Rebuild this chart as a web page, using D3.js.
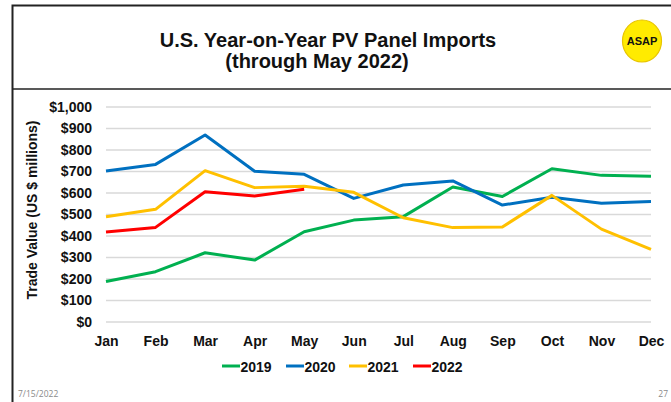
<!DOCTYPE html>
<html>
<head>
<meta charset="utf-8">
<script src="https://cdn.jsdelivr.net/npm/d3@7"></script>
<style>
  body { margin: 0; background: #fff; }
  svg { display: block; font-family: "Liberation Sans", Arial, sans-serif; }
</style>
</head>
<body>
<div id="chart"></div>
<script>
"use strict";

// chart data
const months = ["Jan", "Feb", "Mar", "Apr", "May", "Jun", "Jul", "Aug", "Sep", "Oct", "Nov", "Dec"];
const years = ["2019", "2020", "2021", "2022"];
const colors = ["#00B050", "#0070C0", "#FFC000", "#FF0000"];
const values2019 = [188, 234, 322, 288, 420, 474, 490, 628, 584, 713, 682, 678];
const values2020 = [702, 733, 870, 701, 687, 575, 637, 656, 544, 580, 552, 561];
const values2021 = [490, 524, 704, 625, 631, 603, 485, 439, 442, 589, 432, 338];
const values2022 = [419, 440, 606, 586, 617];
const yTicks = [0, 100, 200, 300, 400, 500, 600, 700, 800, 900, 1000];

const series = [values2019, values2020, values2021, values2022];

const W = 671, H = 402;

const svg = d3.select("#chart").append("svg")
    .attr("width", W)
    .attr("height", H);

// slide frame
svg.append("path")
    .attr("d", "M12.5,402 V5.5 H671")
    .attr("fill", "none")
    .attr("stroke", "#222")
    .attr("stroke-width", 2);
svg.append("line")
    .attr("x1", 12.5).attr("x2", 671)
    .attr("y1", 89).attr("y2", 89)
    .attr("stroke", "#222")
    .attr("stroke-width", 1.5);

// title
svg.append("text")
    .attr("x", 328).attr("y", 47)
    .attr("text-anchor", "middle")
    .attr("font-size", 20).attr("font-weight", "bold")
    .attr("fill", "#111")
    .text("U.S. Year-on-Year PV Panel Imports");
svg.append("text")
    .attr("x", 317).attr("y", 68)
    .attr("text-anchor", "middle")
    .attr("font-size", 20).attr("font-weight", "bold")
    .attr("fill", "#111")
    .text("(through May 2022)");

// ASAP badge
svg.append("ellipse")
    .attr("cx", 642).attr("cy", 41)
    .attr("rx", 19.5).attr("ry", 21)
    .attr("fill", "#FFEB00")
    .attr("stroke", "#E8C400")
    .attr("stroke-width", 1.2);
svg.append("text")
    .attr("x", 642).attr("y", 45)
    .attr("text-anchor", "middle")
    .attr("font-size", 11).attr("font-weight", "bold")
    .attr("fill", "#111")
    .text("ASAP");

// scales
const x = d3.scalePoint()
    .domain(months)
    .range([106, 651]);

const y = d3.scaleLinear()
    .domain([0, 1000])
    .range([322, 107]);

// gridlines
svg.append("g")
    .selectAll("line")
    .data(yTicks)
    .enter()
    .append("line")
    .attr("x1", 106).attr("x2", 651)
    .attr("y1", d => y(d)).attr("y2", d => y(d))
    .attr("stroke", "#d9d9d9")
    .attr("stroke-width", 1.3);

// y axis labels
const yAxis = svg.append("g")
    .attr("transform", "translate(92,0)")
    .call(d3.axisLeft(y).tickValues(yTicks).tickSize(0).tickPadding(0)
        .tickFormat(d => "$" + d3.format(",")(d)));
yAxis.select(".domain").remove();
yAxis.selectAll("text")
    .attr("font-family", "Liberation Sans, Arial, sans-serif")
    .attr("font-size", 14).attr("font-weight", "bold")
    .attr("fill", "#111");

// x axis labels
const xAxis = svg.append("g")
    .attr("transform", "translate(0,336)")
    .call(d3.axisBottom(x).tickSize(0).tickPadding(0));
xAxis.select(".domain").remove();
xAxis.selectAll("text")
    .attr("font-family", "Liberation Sans, Arial, sans-serif")
    .attr("font-size", 14).attr("font-weight", "bold")
    .attr("fill", "#111");

// y axis title
svg.append("text")
    .attr("transform", "translate(37,210) rotate(-90)")
    .attr("text-anchor", "middle")
    .attr("font-size", 14).attr("font-weight", "bold")
    .attr("fill", "#111")
    .text("Trade Value (US $ millions)");

// lines
const line = d3.line()
    .x((d, i) => x(months[i]))
    .y(d => y(d));

svg.append("g")
    .selectAll("path")
    .data(series)
    .enter()
    .append("path")
    .attr("d", d => line(d))
    .attr("fill", "none")
    .attr("stroke", (d, i) => colors[i])
    .attr("stroke-width", 3)
    .attr("stroke-linejoin", "round");

// legend
const legendX = [222, 286, 349, 413];
const legend = svg.append("g")
    .selectAll("g")
    .data(years)
    .enter()
    .append("g")
    .attr("transform", (d, i) => "translate(" + legendX[i] + ",366)");
legend.append("line")
    .attr("x1", 0).attr("x2", 18)
    .attr("stroke", (d, i) => colors[i])
    .attr("stroke-width", 3);
legend.append("text")
    .attr("x", 18.5).attr("y", 5.5)
    .attr("font-size", 14).attr("font-weight", "bold")
    .attr("fill", "#111")
    .text(d => d);

// footer
svg.append("text")
    .attr("x", 18).attr("y", 397)
    .attr("font-family", "Open Sans, sans-serif")
    .attr("font-size", 8.5)
    .attr("fill", "#8a8a8a")
    .text("7/15/2022");
svg.append("text")
    .attr("x", 668).attr("y", 397)
    .attr("text-anchor", "end")
    .attr("font-family", "Open Sans, sans-serif")
    .attr("font-size", 8.5)
    .attr("fill", "#8a8a8a")
    .text("27");
</script>
</body>
</html>
